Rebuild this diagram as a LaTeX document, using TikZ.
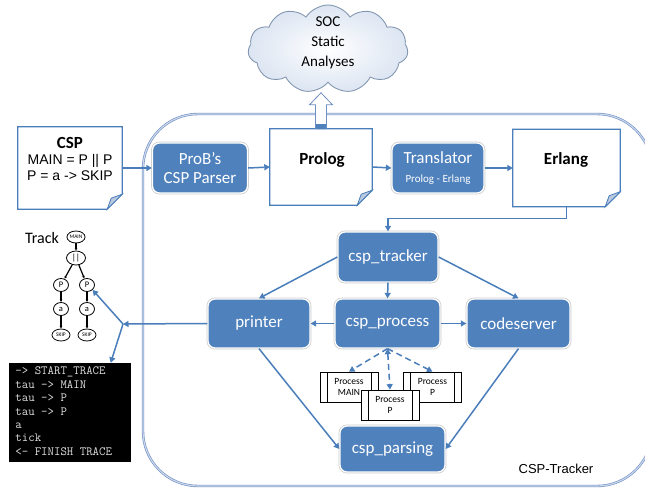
\documentclass[tikz,border=0pt]{standalone}
\usepackage{fontspec}
\setmainfont{Carlito}
\newfontfamily\arialf{Liberation Sans}
\usetikzlibrary{arrows.meta,shapes.symbols,shapes.geometric,calc}

\definecolor{boxblue}{HTML}{4F81BD}
\definecolor{lineblue}{HTML}{4A7EBB}
\definecolor{frameblue}{HTML}{6F8FC2}
\definecolor{framelight}{HTML}{C9D6EC}
\definecolor{foldfill}{HTML}{B8C8DF}
\definecolor{cloudfill}{HTML}{DCE5F2}
\definecolor{cloudline}{HTML}{8497B0}
\definecolor{tracegray}{HTML}{E0E0E0}

% document outline with a folded lower right corner
\newcommand\docframe[1]{%
  \draw[docline] (#1.north west) -- (#1.north east) -- ([yshift=15pt]#1.south east)
    -- ([xshift=-15pt]#1.south east) -- (#1.south west) -- cycle;
  \draw[docline, fill=foldfill, line width=0.8pt] ([yshift=15pt]#1.south east)
    -- ([xshift=-11pt,yshift=11pt]#1.south east) -- ([xshift=-15pt]#1.south east) -- cycle;}

\begin{document}
\begin{tikzpicture}[x=1pt,y=-1pt,
  conn/.style={draw=lineblue, line width=1.5pt, -{Triangle[length=5.5pt,width=6pt]}},
  dconn/.style={conn, dash pattern=on 6pt off 4pt},
  docline/.style={draw=lineblue, line width=1.2pt, fill=white},
  docnode/.style={rectangle, draw=none, inner sep=0pt},
  bluebox/.style={rectangle, rounded corners=7pt, fill=boxblue, draw=white, line width=1.3pt,
    preaction={draw=black!20, line width=2.8pt}, text=white, align=center, inner sep=0pt,
    font=\fontsize{17}{19}\selectfont},
  procbox/.style={rectangle, draw=black, fill=white, line width=0.7pt, minimum width=58pt,
    minimum height=30pt, inner sep=0pt, align=center, font=\fontsize{9.5}{11.5}\selectfont,
    path picture={
      \draw[line width=0.7pt] ([xshift=7pt]path picture bounding box.north west) -- ([xshift=7pt]path picture bounding box.south west);
      \draw[line width=0.7pt] ([xshift=-7pt]path picture bounding box.north east) -- ([xshift=-7pt]path picture bounding box.south east);}},
  tnode/.style={ellipse, draw=black, fill=white, line width=0.8pt, inner sep=0pt},
  tedge/.style={draw=black, line width=1.2pt, -{Latex[length=2.5pt,width=2.8pt]}},
  container/.style={draw=frameblue, line width=0.6pt, double=framelight, double distance=1.2pt, rounded corners=55pt}
]
\useasboundingbox (0,0) rectangle (645,489);

% CSP-Tracker frame
\draw[container] (143,114) rectangle (652,486);
\node[font=\arialf\fontsize{13}{15}\selectfont] (frametitle) at (556,469) {CSP-Tracker};

% static analyses cloud
\node[cloud, cloud puffs=11, cloud puff arc=115, aspect=1.8, draw=cloudline, line width=0.9pt,
  inner color=white, outer color=cloudfill, minimum width=160pt, minimum height=88pt, inner sep=0pt] (soc) at (328,49) {};
\node[align=center, font=\fontsize{15}{20}\selectfont] (soctext) at (328,43) {SOC\\Static\\Analyses};

% documents
\node[docnode, minimum width=104pt, minimum height=82pt] (csp) at (70,168) {};
\docframe{csp}
\node[align=center, font=\arialf\fontsize{14}{16}\selectfont] (csptext) at (70,159)
  {{\normalfont\bfseries\fontsize{17}{18}\selectfont CSP}\\MAIN = P || P\\P = a -> SKIP};

\node[docnode, minimum width=102pt, minimum height=76pt] (prolog) at (321,167) {};
\docframe{prolog}
\node[font=\bfseries\fontsize{17}{19}\selectfont] (prologtext) at (322,160) {Prolog};

\node[docnode, minimum width=107pt, minimum height=77pt] (erlang) at (566.5,168) {};
\docframe{erlang}
\node[font=\bfseries\fontsize{17}{19}\selectfont] (erlangtext) at (566,160) {Erlang};

% hollow arrow up to the cloud
\draw[frameblue, fill=white, line width=0.8pt] ([xshift=-5.5pt]prolog.north) -- ++(0,-24) -- ++(-6,0)
  -- ++(11.5,-12) -- ++(11.5,12) -- ++(-6,0) -- ++(0,24) -- cycle;
\fill[boxblue] ([xshift=-5pt]prolog.north) rectangle ([xshift=5pt,yshift=5pt]prolog.north);

% processing stages
\node[bluebox, minimum width=95pt, minimum height=50pt] (prob) at (200,168) {ProB’s\\CSP Parser};
\node[bluebox, minimum width=92pt, minimum height=50pt] (trans) at (438,168)
  {Translator\\{\fontsize{11}{12}\selectfont Prolog - Erlang}};

\node[bluebox, minimum width=100pt, minimum height=50pt] (tracker) at (388,257) {csp\_tracker};
\node[bluebox, minimum width=102pt, minimum height=49pt] (printer) at (259,323.5) {printer};
\node[bluebox, minimum width=105pt, minimum height=49pt] (process) at (387.5,323.5) {csp\_process};
\node[bluebox, minimum width=103pt, minimum height=49pt] (codeserver) at (518.5,323.5) {codeserver};
\node[bluebox, minimum width=105pt, minimum height=46pt] (parsing) at (392.5,449) {csp\_parsing};

% spawned processes
\node[procbox] (pmain) at (349,387) {Process\\MAIN};
\node[procbox] (pright) at (432.5,387) {Process\\P};
\node[procbox] (pmid) at (390,405) {Process\\P};

% connectors
\draw[conn] (csp.east) -- (prob.west);
\draw[conn] (prob.east) -- (prolog.west);
\draw[conn] (prolog.east) -- (trans.west);
\draw[conn] (trans.east) -- (erlang.west);
\draw[conn] (erlang.south) -- ++(0,12) -| (tracker.north);
\draw[conn] (tracker.west) -- (printer.north);
\draw[conn] (tracker.south) -- (process.north);
\draw[conn] (tracker.east) -- (codeserver.north);
\draw[conn] (process.west) -- (printer.east);
\draw[conn] (process.east) -- (codeserver.west);
\draw[conn] (printer.south) -- (parsing.west);
\draw[conn] (codeserver.south) -- (parsing.east);
\draw[dconn] (process.south) -- (pmain.north);
\draw[dconn, {Triangle[length=5.5pt,width=6pt]}-{Triangle[length=5.5pt,width=6pt]}] (process.south) -- (pmid.north);
\draw[dconn] (process.south) -- (pright.north);

% process tree
\node[font=\fontsize{16}{18}\selectfont] (track) at (42,238) {Track};
\node[tnode, minimum width=18pt, minimum height=12pt, font=\fontsize{5.5}{6}\selectfont] (tmain) at (76,237) {MAIN};
\node[tnode, minimum width=19pt, minimum height=14pt, font=\fontsize{9}{10}\selectfont] (tpar) at (76,258) {||};
\node[tnode, minimum width=15pt, minimum height=13pt, font=\fontsize{8.5}{9}\selectfont] (tp1) at (61,285) {P};
\node[tnode, minimum width=15pt, minimum height=13pt, font=\fontsize{8.5}{9}\selectfont] (tp2) at (87,285) {P};
\node[tnode, minimum width=15pt, minimum height=13pt, font=\fontsize{8.5}{9}\selectfont] (ta1) at (61,309) {a};
\node[tnode, minimum width=15pt, minimum height=13pt, font=\fontsize{8.5}{9}\selectfont] (ta2) at (87,309) {a};
\node[tnode, minimum width=18pt, minimum height=12pt, font=\fontsize{5.5}{6}\selectfont] (ts1) at (61,335) {SKIP};
\node[tnode, minimum width=18pt, minimum height=12pt, font=\fontsize{5.5}{6}\selectfont] (ts2) at (87,335) {SKIP};
\draw[tedge] (tmain) -- (tpar);
\draw[tedge] (tpar) -- (tp1);
\draw[tedge] (tpar) -- (tp2);
\draw[tedge] (tp1) -- (ta1);
\draw[tedge] (tp2) -- (ta2);
\draw[tedge] (ta1) -- (ts1);
\draw[tedge] (ta2) -- (ts2);

% trace output
\node[fill=black, minimum width=122pt, minimum height=99pt, inner sep=0pt] (term) at (69.5,412.5) {};
\node[anchor=north west, align=left, text=tracegray, inner sep=0pt,
  font=\ttfamily\fontsize{12.5}{13.4}\selectfont] (trace) at ([xshift=7pt,yshift=-4pt]term.north west)
  {-> START\_TRACE\\tau -> MAIN\\tau -> P\\tau -> P\\a\\tick\\<- FINISH TRACE};

% printer output
\coordinate (junc) at (123,324);
\draw[conn] (printer.west) -- (junc);
\draw[conn] (junc) -- (tp2.south east);
\draw[conn] (junc) -- ([xshift=-20pt]term.north east);
\end{tikzpicture}
\end{document}
